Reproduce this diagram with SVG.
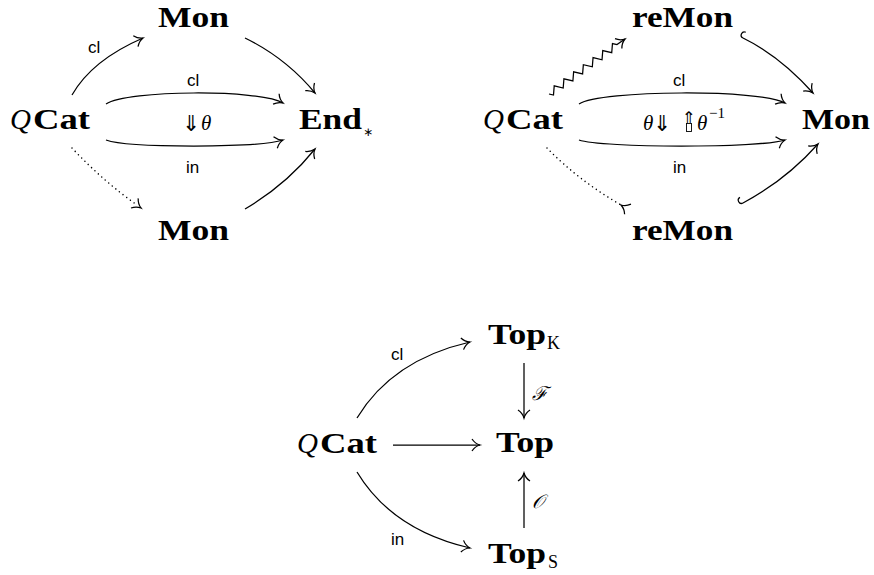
<svg xmlns="http://www.w3.org/2000/svg" width="874" height="575" viewBox="0 0 874 575">
<style>
.b{font-family:"Liberation Serif",serif;font-weight:bold;font-size:29px;fill:#000}
.q{font-family:"Liberation Serif",serif;font-style:italic;font-size:29px;fill:#000}
.s{font-family:"Liberation Sans",sans-serif;font-size:17px;fill:#000}
.m{font-family:"Liberation Serif",serif;font-style:italic;font-size:21px;fill:#000}
.c{font-family:"Liberation Serif",serif;font-style:italic;font-size:19px;fill:#000}
.r{font-family:"Liberation Serif",serif;font-size:15px;fill:#000}
.ar{font-family:"DejaVu Sans",sans-serif;font-size:22px;fill:#000}
.ar2{font-family:"DejaVu Sans",sans-serif;font-size:16px;fill:#000}
.st{font-family:"DejaVu Sans",sans-serif;font-size:12px;fill:#000}
.sub{font-family:"Liberation Serif",serif;font-size:18px;fill:#000}
.e{fill:none;stroke:#000;stroke-width:1.25}
.to{marker-end:url(#ah)}
.dot{stroke-dasharray:0.01 4.6;stroke-linecap:round;stroke-width:1.5}
</style>
<defs>
<marker id="ah" viewBox="-10 -8 12 16" refX="0" refY="0" markerWidth="12" markerHeight="16" markerUnits="userSpaceOnUse" orient="auto" overflow="visible"><path d="M-8,-6 C-6,-3 -2.5,-0.7 0,0 C-2.5,0.7 -6,3 -8,6" fill="none" stroke="#000" stroke-width="1.25"/></marker>
<marker id="rev" viewBox="-2 -8 12 16" refX="0" refY="0" markerWidth="12" markerHeight="16" markerUnits="userSpaceOnUse" orient="auto" overflow="visible"><path d="M8,-6 C6,-3 2.5,-0.7 0,0 C2.5,0.7 6,3 8,6" fill="none" stroke="#000" stroke-width="1.25"/></marker>
<marker id="hook" viewBox="-6 -9 10 10" refX="0" refY="0" markerWidth="10" markerHeight="10" markerUnits="userSpaceOnUse" orient="auto" overflow="visible"><path d="M0,0 A3.2,3.2 0 0 1 0,-6.4" fill="none" stroke="#000" stroke-width="1.25"/></marker>
</defs>

<!-- Diagram 1 -->
<g id="d1-mon-top"><text class="b" x="158" y="27" textLength="71" lengthAdjust="spacingAndGlyphs">Mon</text></g>
<g id="d1-qcat"><text class="q" x="10" y="129">Q</text><text class="b" x="33" y="129" textLength="57" lengthAdjust="spacingAndGlyphs">Cat</text></g>
<g id="d1-end"><text class="b" x="299" y="129" textLength="63" lengthAdjust="spacingAndGlyphs">End</text><text class="st" x="363" y="136">∗</text></g>
<g id="d1-mon-bottom"><text class="b" x="158" y="240" textLength="71" lengthAdjust="spacingAndGlyphs">Mon</text></g>
<g id="d1-theta"><text class="ar" x="182" y="131">⇓</text><text class="m" x="201" y="130">θ</text></g>

<!-- Diagram 2 -->
<g id="d2-remon-top"><text class="b" x="632" y="27" textLength="101" lengthAdjust="spacingAndGlyphs">reMon</text></g>
<g id="d2-qcat"><text class="q" x="483" y="129">Q</text><text class="b" x="506" y="129" textLength="57" lengthAdjust="spacingAndGlyphs">Cat</text></g>
<g id="d2-mon"><text class="b" x="802" y="129" textLength="68" lengthAdjust="spacingAndGlyphs">Mon</text></g>
<g id="d2-remon-bottom"><text class="b" x="632" y="240" textLength="101" lengthAdjust="spacingAndGlyphs">reMon</text></g>
<g id="d2-theta"><text class="m" x="643" y="130">θ</text><text class="ar" x="653" y="131">⇓</text><text class="ar2" x="682" y="123">⇑</text><rect x="686.5" y="123.5" width="5" height="8" fill="none" stroke="#000" stroke-width="0.9"/><text class="m" x="697" y="130">θ</text><text class="r" x="709" y="118">−1</text></g>

<!-- Diagram 3 -->
<g id="d3-topk"><text class="b" x="488" y="344" textLength="58" lengthAdjust="spacingAndGlyphs">Top</text><text class="sub" x="547" y="349">K</text></g>
<g id="d3-qcat"><text class="q" x="297" y="453">Q</text><text class="b" x="320" y="453" textLength="57" lengthAdjust="spacingAndGlyphs">Cat</text></g>
<g id="d3-top"><text class="b" x="496" y="452" textLength="58" lengthAdjust="spacingAndGlyphs">Top</text></g>
<g id="d3-tops"><text class="b" x="488" y="563" textLength="58" lengthAdjust="spacingAndGlyphs">Top</text><text class="sub" x="548" y="568">S</text></g>

<g id="connectors">
<path class="e to" d="M72,95 Q92,60 143,38"/>
<path class="e to" d="M245,38 Q286,58 315,93"/>
<path class="e to" d="M106,104 C128,90 259,89 283,103"/>
<path class="e to" d="M106,140 C128,148 259,148 283,140"/>
<path class="e dot" d="M72,148 Q103,181 137,205"/>
<path d="M137,205 L141,208" fill="none" stroke="none" marker-end="url(#ah)"/>
<path class="e to" d="M245,209 Q286,185 315,149"/>

<path class="e to" d="M549,94 L553.49,95.07 L554.22,85.88 L563.2,88.01 L563.93,78.82 L572.9,80.95 L573.64,71.77 L582.61,73.9 L583.35,64.71 L592.32,66.84 L593.05,57.65 L602.03,59.79 L602.76,50.6 L611.74,52.73 L612.47,43.54 L616.96,44.61 L625,39"/>
<path class="e to" d="M743,38 Q780,56 813,93" marker-start="url(#hook)"/>
<path class="e to" d="M579,104 C601,90 761,89 785,103"/>
<path class="e to" d="M579,140 C601,148 761,148 785,140"/>
<path class="e dot" d="M547,148 Q578,180 621,205"/>
<path d="M617,202.5 L621,205" fill="none" stroke="none" marker-end="url(#rev)"/>
<path class="e to" d="M743,203 Q786,180 818,144" marker-start="url(#hook)"/>

<path class="e to" d="M357,418 Q392,360 470,342"/>
<path class="e to" d="M393,445 L480,445"/>
<path class="e to" d="M357,472 Q392,530 470,548"/>
<path class="e to" d="M524,363 L524,418"/>
<path class="e to" d="M524,528 L524,473"/>
</g>

<g id="labels">
<text class="s" x="88" y="53">cl</text>
<text class="s" x="187" y="86">cl</text>
<text class="s" x="186" y="173">in</text>
<text class="s" x="673" y="86">cl</text>
<text class="s" x="673" y="173">in</text>
<text class="s" x="391" y="360">cl</text>
<text class="s" x="391" y="545">in</text>
<text class="c" x="532" y="400">ℱ</text>
<text class="c" x="532" y="508">𝒪</text>
</g>
</svg>
